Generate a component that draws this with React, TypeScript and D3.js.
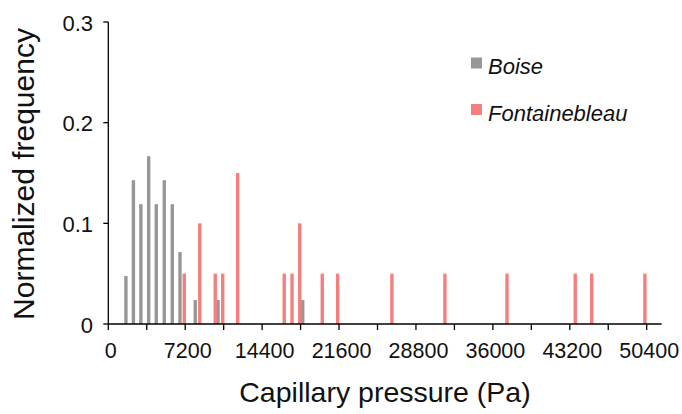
import React from "react";
import * as d3 from "d3";

const boisePressure = [1650, 2350, 3050, 3780, 4490, 5240, 5990, 6710, 8140, 10270, 18200];
const boiseFreq = [2 / 42, 6 / 42, 5 / 42, 7 / 42, 5 / 42, 6 / 42, 5 / 42, 3 / 42, 1 / 42, 1 / 42, 1 / 42];

const fontPressure = [7110, 8560, 10010, 10710, 12110, 16470, 17200, 17920, 20030, 21470, 26550, 31510, 37320, 43710, 45250, 50230];
const fontFreq = [0.05, 0.1, 0.05, 0.05, 0.15, 0.05, 0.05, 0.1, 0.05, 0.05, 0.05, 0.05, 0.05, 0.05, 0.05, 0.05];

const xTicks = d3.range(0, 50401, 3600);
const xLabelTicks = [0, 7200, 14400, 21600, 28800, 36000, 43200, 50400];
const yTicks = [0, 0.1, 0.2, 0.3];
const yTickLabels = ["0", "0.1", "0.2", "0.3"];

const seriesNames = ["Boise", "Fontainebleau"];
const seriesColors = ["#979797", "#f47f7f"];

const xAxisTitle = "Capillary pressure (Pa)";
const yAxisTitle = "Normalized frequency";

export default function App() {
  const W = 682;
  const H = 414;
  const x = d3.scaleLinear().domain([0, 50400]).range([108.3, 646.7]);
  const y = d3.scaleLinear().domain([0, 0.3]).range([324, 22]);
  const xEnd = x(51800);
  const barW = 3.4;
  const font = "'Liberation Sans', Arial, Helvetica, sans-serif";

  return (
    <svg
      width={W}
      height={H}
      style={{ position: "absolute", left: 0, top: 0, background: "#fff" }}
      fontFamily={font}
    >
      <rect x={0} y={0} width={W} height={H} fill="#fff" />
      {boisePressure.map((p, i) => (
        <rect
          key={"b" + i}
          x={x(p) - barW / 2}
          y={y(boiseFreq[i])}
          width={barW}
          height={y(0) - y(boiseFreq[i])}
          fill={seriesColors[0]}
        />
      ))}
      {fontPressure.map((p, i) => (
        <rect
          key={"f" + i}
          x={x(p) - barW / 2}
          y={y(fontFreq[i])}
          width={barW}
          height={y(0) - y(fontFreq[i])}
          fill={seriesColors[1]}
        />
      ))}
      <line x1={x(0)} x2={xEnd} y1={y(0)} y2={y(0)} stroke="#000" strokeWidth={1.3} />
      <line x1={x(0)} x2={x(0)} y1={y(0)} y2={y(0.3)} stroke="#000" strokeWidth={1.3} />
      {xTicks.map((t) => (
        <line key={"xt" + t} x1={x(t)} x2={x(t)} y1={y(0)} y2={y(0) + 6} stroke="#000" strokeWidth={1.3} />
      ))}
      {xLabelTicks.map((t) => (
        <text key={"xl" + t} x={x(t) + 2.5} y={358} textAnchor="middle" fontSize={21.5} fill="#111">
          {t}
        </text>
      ))}
      {yTicks.map((t, i) => (
        <g key={"yt" + t}>
          <line x1={x(0) - 5} x2={x(0)} y1={y(t)} y2={y(t)} stroke="#000" strokeWidth={1.3} />
          <text x={93} y={y(t) + 8.5} textAnchor="end" fontSize={22} fill="#111">
            {yTickLabels[i]}
          </text>
        </g>
      ))}
      <text x={385} y={402} textAnchor="middle" fontSize={28.5} fill="#111">
        {xAxisTitle}
      </text>
      <text
        transform={`translate(34,174) rotate(-90)`}
        textAnchor="middle"
        fontSize={30}
        fill="#111"
      >
        {yAxisTitle}
      </text>
      {seriesNames.map((n, i) => (
        <g key={"lg" + n} transform={`translate(471,${57.5 + i * 46.5})`}>
          <rect x={0} y={0} width={11} height={11} fill={seriesColors[i]} />
          <text x={17} y={16.5} fontSize={22} fontStyle="italic" fill="#111">
            {n}
          </text>
        </g>
      ))}
    </svg>
  );
}
